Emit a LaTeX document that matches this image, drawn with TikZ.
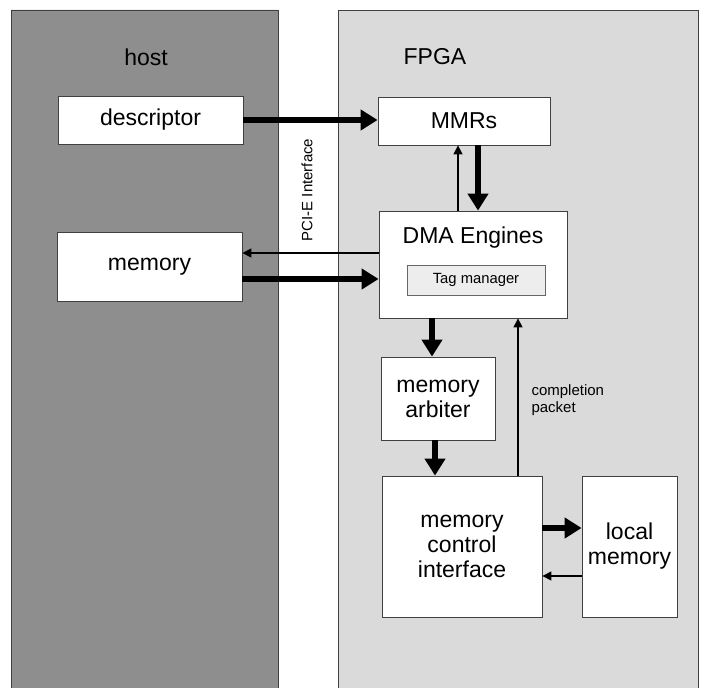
\documentclass[tikz,border=0pt]{standalone}
\usepackage{fontspec}
\setmainfont{Liberation Sans}
\usetikzlibrary{arrows.meta}
\definecolor{hostgray}{HTML}{8E8E8E}
\definecolor{fpgagray}{HTML}{DADADA}
\definecolor{taggray}{HTML}{EDEDED}
\begin{document}
\begin{tikzpicture}[x=1pt,y=-1pt,
  panel/.style={draw=black!75, line width=0.7pt},
  box/.style={draw=black!75, line width=0.8pt, fill=white, align=center,
    inner sep=0pt, font=\fontsize{23}{25}\selectfont},
  tagbox/.style={draw=black!60, line width=0.6pt, fill=taggray, inner sep=0pt,
    minimum width=138pt, minimum height=30pt, font=\fontsize{14.8}{16}\selectfont},
  biglabel/.style={font=\fontsize{23}{25}\selectfont},
  smalllabel/.style={font=\fontsize{15}{17}\selectfont, align=left},
  thickarrow/.style={line width=6pt, -{Triangle[length=17pt,width=20pt]}},
  thinarrow/.style={line width=1.3pt, -{Triangle[length=9pt,width=9pt]}}
]
\useasboundingbox (0,0) rectangle (703,687);
\fill[white] (0,0) rectangle (703,687);
% panels
\draw[panel, fill=hostgray] (11,10) -- (11,692) (278,692) -- (278,10) -- (11,10);
\fill[hostgray] (11,10) rectangle (278,692);
\draw[panel] (11,692) -- (11,10) -- (278,10) -- (278,692);
\fill[fpgagray] (338,10) rectangle (698,692);
\draw[panel] (338,692) -- (338,10) -- (698,10) -- (698,692);
\node[biglabel] (hostlbl) at (146,57) {host};
\node[biglabel] (fpgalbl) at (435,57) {FPGA};
\node[smalllabel, rotate=90] (pcie) at (307,190) {PCI-E Interface};
% boxes
\node[box, minimum width=185pt, minimum height=48pt] (descriptor) at (150.5,120) {descriptor};
\node[box, minimum width=172pt, minimum height=48pt] (MMRs) at (464,121) {MMRs};
\node[box, minimum width=185pt, minimum height=69pt] (memory) at (149.5,266.5) {memory};
\node[box, minimum width=188pt, minimum height=107pt] (DMA) at (473,264.5) {};
\node[biglabel] (dmalbl) at (473,238) {DMA Engines};
\node[tagbox] (tag) at (476,280) {Tag manager};
\node[box, minimum width=114pt, minimum height=83pt] (arbiter) at (438,398.5) {memory\\arbiter};
\node[box, minimum width=160pt, minimum height=141pt] (MCI) at (462,546.5) {memory\\control\\interface};
\node[box, minimum width=95pt, minimum height=141pt] (local) at (629.5,546.5) {local\\memory};
\node[smalllabel, anchor=west] (complbl) at (528,400) {completion\\packet};
% connectors
\draw[thickarrow] (descriptor.east) -- (descriptor.east -| MMRs.west);
\draw[thickarrow] ([xshift=14pt]MMRs.south) -- ([xshift=14pt]MMRs.south |- DMA.north);
\draw[thinarrow] ([xshift=-6pt]MMRs.south |- DMA.north) -- ([xshift=-6pt]MMRs.south);
\draw[thinarrow] ([yshift=11.5pt]DMA.west) -- ([yshift=11.5pt]DMA.west -| memory.east);
\draw[thickarrow] ([yshift=-12.5pt]memory.east) -- ([yshift=-12.5pt]memory.east -| DMA.west);
\draw[thickarrow] ([xshift=-41pt]DMA.south) -- ([xshift=-41pt]DMA.south |- arbiter.north);
\draw[thickarrow] ([xshift=-3pt]arbiter.south) -- ([xshift=-3pt]arbiter.south |- MCI.north);
\draw[thinarrow] ([xshift=56pt]MCI.north) -- ([xshift=56pt]MCI.north |- DMA.south);
\draw[thickarrow] ([yshift=18.5pt]MCI.east) -- ([yshift=18.5pt]MCI.east -| local.west);
\draw[thinarrow] ([yshift=-29.5pt]local.west) -- ([yshift=-29.5pt]local.west -| MCI.east);
\end{tikzpicture}
\end{document}
